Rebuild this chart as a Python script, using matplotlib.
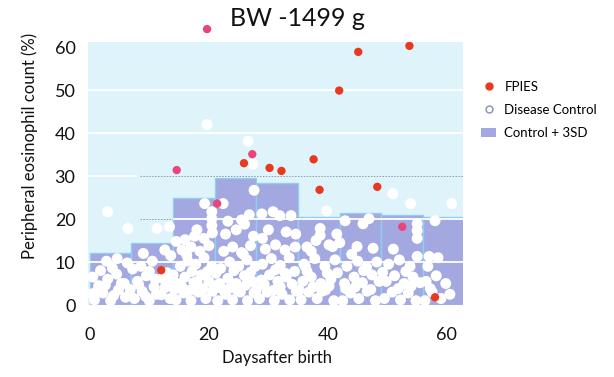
import matplotlib
matplotlib.use("Agg")
import matplotlib.pyplot as plt
from matplotlib.lines import Line2D
from matplotlib.patches import Patch

plt.rcParams["font.family"] = ["Lato", "DejaVu Sans"]

# weekly control + 3SD
bin_left = [0, 7, 14, 21, 28, 35, 42, 49, 56]
bin_height = [12.0, 14.5, 25.0, 29.5, 28.5, 20.5, 21.5, 21.0, 20.5]

# FPIES cases
fpies_days = [25.9, 30.2, 32.2, 37.6, 41.9, 45.1, 53.7, 38.6, 48.3, 12.0, 58.0]
fpies_vals = [33.0, 31.9, 31.2, 33.9, 49.9, 58.9, 60.3, 26.8, 27.5, 8.1, 1.8]
pink_days = [14.6, 27.3, 21.4, 52.5, 19.7]
pink_vals = [31.4, 35.1, 23.6, 18.2, 64.2]

# disease control
dc_days = [
    0.8, 2.2, 3.5, 4.8, 6.0, 1.5, 3.0, 4.5, 5.8, 2.8, 4.6, 6.3, 0.5, 1.8, 3.0, 6.4,
    7.5, 8.8, 10.0, 11.2, 12.6, 13.5, 8.0, 9.5, 11.0, 13.0, 8.6, 10.5, 12.6, 13.6, 11.3, 13.4, 9.0,
    14.5, 15.8, 17.0, 18.2, 19.5, 20.6, 14.8, 16.0, 17.5, 18.8, 20.0, 15.2, 16.5, 17.8, 19.2, 20.5,
    15.5, 17.0, 18.5, 20.0, 16.0, 17.6, 19.2, 20.6, 18.0, 20.5, 20.5, 20.5, 19.3, 19.7, 14.5,
    21.5, 22.8, 24.0, 25.3, 26.5, 27.6, 21.8, 23.2, 24.6, 26.0, 27.3, 22.0, 23.5, 25.0, 26.4, 27.8,
    22.5, 24.0, 25.5, 27.0, 22.8, 24.6, 26.0, 27.5, 23.2, 25.5, 22.4, 27.6, 26.6, 27.4, 26.8,
    28.5, 29.8, 31.0, 32.3, 33.6, 34.7, 28.8, 30.2, 31.6, 33.0, 34.4, 29.0, 30.5, 32.0, 33.5,
    29.5, 31.2, 32.8, 34.5, 28.9, 30.8, 31.9, 33.8, 30.0, 33.0, 34.6, 29.0,
    35.5, 36.8, 38.2, 39.6, 41.0, 35.8, 37.2, 38.8, 40.5, 41.6, 36.0, 37.8, 39.5, 41.2,
    36.5, 38.0, 40.2, 38.7, 38.7, 37.2, 39.8, 41.5, 40.8,
    42.5, 43.8, 45.2, 46.6, 48.0, 42.8, 44.4, 45.8, 47.4, 48.6, 43.2, 45.0, 46.5, 48.2,
    42.9, 45.9, 46.9, 42.0, 44.9, 47.6, 44.0,
    49.5, 50.8, 52.2, 53.5, 54.8, 49.8, 51.2, 52.8, 54.3, 55.5, 50.2, 52.0, 53.8, 55.0, 51.0,
    55.0, 55.0, 55.0, 50.9, 53.9,
    56.3, 57.5, 59.0, 60.5, 56.5, 58.2, 59.8, 56.8, 58.5, 58.0, 60.8, 57.0,
    # extra fill in the low band
    1.2, 2.6, 4.0, 5.3, 6.8, 8.2, 9.4, 10.8, 12.0, 13.2, 14.2, 15.5, 16.8, 18.0, 19.0, 21.0,
    22.2, 23.6, 24.8, 26.2, 28.0, 29.3, 30.8, 32.0, 34.0, 35.2, 37.5, 39.0, 40.2, 43.0,
    44.6, 47.2, 51.8, 54.0, 57.2, 3.8, 7.2, 10.0, 14.0, 17.2, 21.2, 24.2, 27.0, 31.2, 36.5,
    39.9, 46.0, 49.2, 53.1, 0.4, 12.2, 16.3, 19.8, 25.8, 32.8, 36.2,
]
dc_vals = [
    1.2, 2.8, 1.0, 3.5, 1.8, 4.5, 6.0, 7.2, 5.0, 10.2, 10.8, 9.8, 6.5, 8.0, 21.7, 17.8,
    1.5, 3.2, 1.0, 2.5, 4.0, 1.5, 5.5, 6.8, 6.0, 7.5, 9.0, 10.2, 12.8, 11.5, 17.8, 18.2, 12.0,
    1.2, 2.8, 1.0, 3.0, 1.5, 3.2, 5.0, 6.5, 5.2, 7.0, 5.5, 9.0, 10.2, 9.5, 11.0, 9.0,
    12.8, 13.5, 12.5, 13.8, 15.2, 16.0, 15.5, 16.8, 17.5, 18.5, 20.1, 21.7, 23.6, 42.0, 14.8,
    1.0, 2.5, 1.2, 3.0, 1.0, 2.8, 5.0, 6.2, 5.0, 6.8, 5.5, 8.5, 10.0, 9.0, 10.5, 9.0,
    12.5, 13.5, 12.2, 13.8, 16.5, 17.5, 18.8, 16.0, 19.5, 19.8, 23.6, 26.7, 38.1, 32.8, 21.0,
    1.5, 3.0, 1.0, 2.5, 1.2, 3.2, 5.8, 7.0, 5.5, 6.5, 7.8, 9.5, 10.8, 9.2, 11.0,
    13.0, 14.0, 12.8, 13.5, 21.2, 21.7, 20.8, 20.8, 17.5, 17.0, 16.5, 15.5,
    1.2, 3.0, 1.5, 3.5, 1.0, 5.5, 6.5, 5.0, 6.0, 7.5, 9.5, 10.8, 9.0, 10.5,
    13.5, 15.0, 14.0, 17.8, 16.2, 12.5, 21.9, 16.5, 13.6,
    1.0, 2.8, 1.5, 3.2, 1.0, 5.0, 6.5, 5.2, 7.0, 5.5, 9.0, 10.2, 8.8, 10.0,
    19.6, 18.9, 20.1, 14.5, 13.6, 13.2, 11.8,
    1.5, 3.0, 1.2, 2.8, 1.0, 5.5, 6.8, 5.0, 6.5, 5.2, 9.5, 10.5, 9.0, 11.3, 13.0,
    18.9, 17.3, 15.5, 25.9, 23.6,
    1.0, 3.0, 1.5, 2.5, 5.5, 6.8, 5.0, 9.0, 11.0, 19.6, 23.6, 11.3,
    # extra fill in the low band
    3.2, 4.6, 2.2, 5.0, 3.6, 4.8, 2.0, 4.2, 2.4, 5.6, 3.6, 4.2, 3.4, 5.4, 3.8, 4.4,
    3.8, 4.0, 3.4, 4.6, 3.6, 4.8, 3.4, 4.2, 4.8, 3.4, 4.2, 3.2, 4.4, 3.8,
    4.2, 3.6, 3.8, 4.4, 3.8, 8.6, 8.4, 7.8, 7.0, 7.8, 7.4, 8.0, 7.6, 8.2, 7.8,
    7.4, 8.0, 7.6, 7.8, 2.6, 6.2, 11.6, 7.8, 11.8, 7.4, 9.0,
]

fig = plt.figure(figsize=(6.14, 3.77), dpi=100)
ax = fig.add_axes([88 / 614, 1 - 305 / 377, 375 / 614, 263 / 377])
ax.set_facecolor("#dff4fa")
ax.set_xlim(-0.3, 62.7)
ax.set_ylim(0.45, 61.2)

# background guide lines
for y in [20, 30]:
    ax.hlines(y, 8.5, 62.7, color="#8a9aa8", lw=0.7, ls=(0, (1.5, 1.5)), zorder=0.5)
ax.hlines(30, -0.3, 8.0, color="white", lw=1.3, zorder=0.5)
for y in [40, 50]:
    ax.axhline(y, color="white", lw=1.3, zorder=0.5)

ax.bar(bin_left, bin_height, width=7, align="edge", color="#a4a8e0",
       edgecolor="#8fd0f2", linewidth=1.0, zorder=1)

ax.axhline(10, color="white", lw=1.3, zorder=1.5)
ax.hlines(20, 14, 62.7, color="white", lw=1.3, zorder=1.5)

ax.scatter(dc_days, dc_vals, s=62, color="white", edgecolors="none", zorder=2)
ax.scatter(fpies_days, fpies_vals, s=36, color="#e8391e", edgecolors="none", zorder=3)
ax.scatter(pink_days, pink_vals, s=36, color="#e8457a", edgecolors="none",
           zorder=3, clip_on=False)

for s in ax.spines.values():
    s.set_visible(False)
ax.tick_params(length=0, labelsize=13, colors="#111111")
ax.tick_params(axis="y", pad=9)
ax.tick_params(axis="x", pad=16)
ax.set_xticks([0, 20, 40, 60])
ax.set_yticks([0, 10, 20, 30, 40, 50, 60])

fig.text(30 / 614, 1 - 146 / 377, "Peripheral eosinophil count (%)", rotation=90,
         ha="center", va="center", fontsize=12, color="#111111")
fig.text(277 / 614, 1 - 358 / 377, "Daysafter birth", ha="center", va="center",
         fontsize=12, color="#111111")
fig.text(297 / 614, 1 - 18 / 377, "BW -1499 g", ha="center", va="center",
         fontsize=18, color="#111111")

handles = [
    Line2D([], [], marker="o", ls="none", color="#e8391e", markersize=5),
    Line2D([], [], marker="o", ls="none", markerfacecolor="white",
           markeredgecolor="#8090c0", markersize=5),
    Patch(facecolor="#a4a8e0", edgecolor="none"),
]
fig.legend(handles, ["FPIES", "Disease Control", "Control + 3SD"],
           loc="upper left", bbox_to_anchor=(474 / 614, 1 - 74 / 377),
           frameon=False, fontsize=9.5, labelspacing=0.85, handlelength=1.2,
           handletextpad=0.6, borderpad=0)

fig.savefig("out.png", dpi=100)
